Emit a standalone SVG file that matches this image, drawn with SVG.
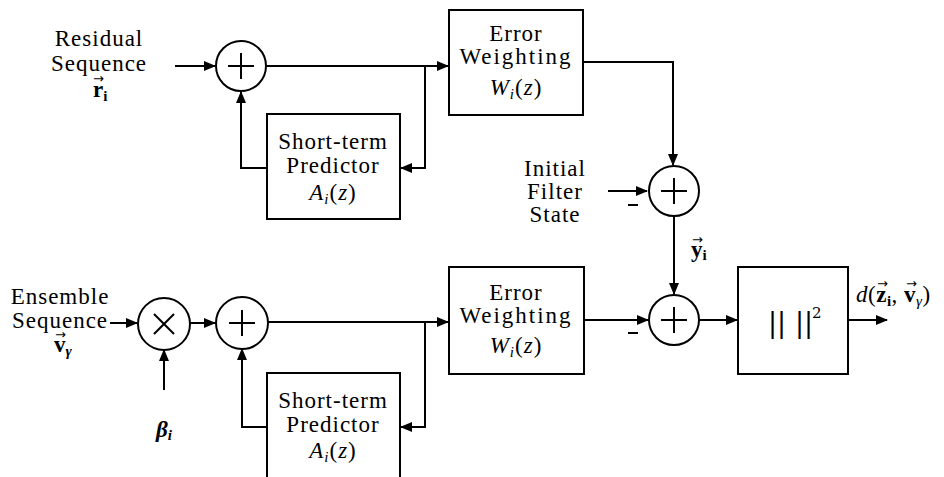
<svg xmlns="http://www.w3.org/2000/svg" width="944" height="477" viewBox="0 0 944 477">
<style>
text{font-family:"Liberation Serif","DejaVu Serif",serif;fill:#000}
.t{font-size:23px;text-anchor:middle;letter-spacing:1px}
.i{font-style:italic}
.b{font-weight:bold}
.s{font-size:15px}
.v{font-size:13px;font-weight:normal;font-style:normal;font-family:"DejaVu Sans",sans-serif}
.box{fill:#fff;stroke:#000;stroke-width:2}
.w{fill:none;stroke:#000;stroke-width:2}
</style>
<defs>
<marker id="ah" markerWidth="12" markerHeight="10" refX="11" refY="5" orient="auto" markerUnits="userSpaceOnUse">
<path d="M0,0 L12,5 L0,10 Z" fill="#000"/>
</marker>
</defs>
<g id="connectors" class="w">
<path d="M175,66 H215" marker-end="url(#ah)"/>
<path d="M267,66 H448" marker-end="url(#ah)"/>
<path d="M425,66 V168 H401" marker-end="url(#ah)"/>
<path d="M267,168 H241 V92" marker-end="url(#ah)"/>
<path d="M583,62 H673 V165" marker-end="url(#ah)"/>
<path d="M608,191 H647" marker-end="url(#ah)"/>
<path d="M628,205 H638"/>
<path d="M674,217 V294" marker-end="url(#ah)"/>
<path d="M110,323 H137" marker-end="url(#ah)"/>
<path d="M190,323 H215" marker-end="url(#ah)"/>
<path d="M164,390 V350" marker-end="url(#ah)"/>
<path d="M268,322 H448" marker-end="url(#ah)"/>
<path d="M425,322 V427 H401" marker-end="url(#ah)"/>
<path d="M267,427 H242 V349" marker-end="url(#ah)"/>
<path d="M584,320 H648" marker-end="url(#ah)"/>
<path d="M628,333 H638"/>
<path d="M700,320 H737" marker-end="url(#ah)"/>
<path d="M848,320 H887" marker-end="url(#ah)"/>
</g>
<g id="residual-label">
<text class="t" x="99" y="46">Residual</text>
<text class="t" x="99" y="71">Sequence</text>
<text class="b" x="93" y="97" style="font-size:23px">r<tspan class="s" dy="4">i</tspan><tspan class="v" x="93" y="83">→</tspan></text>
</g>
<g id="sum1">
<circle class="box" cx="241" cy="66" r="25"/>
<path class="w" d="M228,66 H254 M241,53 V79"/>
</g>
<g id="stp1">
<rect class="box" x="267" y="114" width="133" height="105"/>
<text class="t" x="333" y="149">Short-term</text>
<text class="t" x="333" y="173">Predictor</text>
<text class="t" x="333" y="200"><tspan class="i">A</tspan><tspan class="s i" dy="4">i</tspan><tspan dy="-4">(</tspan><tspan class="i">z</tspan>)</text>
</g>
<g id="ew1">
<rect class="box" x="449" y="10" width="134" height="105"/>
<text class="t" x="516" y="41">Error</text>
<text class="t" x="516" y="64" style="letter-spacing:2px">Weighting</text>
<text class="t" x="516" y="95"><tspan class="i">W</tspan><tspan class="s i" dy="4">i</tspan><tspan dy="-4">(</tspan><tspan class="i">z</tspan>)</text>
</g>
<g id="initial-label">
<text class="t" x="555" y="176">Initial</text>
<text class="t" x="555" y="199">Filter</text>
<text class="t" x="555" y="222">State</text>
</g>
<g id="sum2">
<circle class="box" cx="674" cy="191" r="25"/>
<path class="w" d="M661,191 H687 M674,178 V204"/>
</g>
<g id="y-label">
<text class="b" x="691" y="257" style="font-size:23px">y<tspan class="s" dy="3">i</tspan><tspan class="v" x="692" y="244">→</tspan></text>
</g>
<g id="ensemble-label">
<text class="t" x="60" y="304">Ensemble</text>
<text class="t" x="60" y="328">Sequence</text>
<text class="b" x="54" y="352" style="font-size:23px">v<tspan class="s i" dy="4">γ</tspan><tspan class="v" x="55" y="339">→</tspan></text>
</g>
<g id="mult">
<circle class="box" cx="164" cy="324" r="26"/>
<path class="w" d="M154,314 L174,334 M174,314 L154,334"/>
</g>
<g id="beta-label">
<text class="t i b" x="164" y="437" style="letter-spacing:0">β<tspan class="s" dy="3">i</tspan></text>
</g>
<g id="sum3">
<circle class="box" cx="242" cy="323" r="26"/>
<path class="w" d="M229,323 H255 M242,310 V336"/>
</g>
<g id="stp2">
<rect class="box" x="267" y="373" width="133" height="110"/>
<text class="t" x="333" y="408">Short-term</text>
<text class="t" x="333" y="432">Predictor</text>
<text class="t" x="333" y="458"><tspan class="i">A</tspan><tspan class="s i" dy="4">i</tspan><tspan dy="-4">(</tspan><tspan class="i">z</tspan>)</text>
</g>
<g id="ew2">
<rect class="box" x="449" y="267" width="135" height="107"/>
<text class="t" x="516" y="300">Error</text>
<text class="t" x="516" y="323" style="letter-spacing:2px">Weighting</text>
<text class="t" x="516" y="353"><tspan class="i">W</tspan><tspan class="s i" dy="4">i</tspan><tspan dy="-4">(</tspan><tspan class="i">z</tspan>)</text>
</g>
<g id="sum4">
<circle class="box" cx="674" cy="320" r="25"/>
<path class="w" d="M661,320 H687 M674,307 V333"/>
</g>
<g id="norm">
<rect class="box" x="738" y="267" width="110" height="107"/>
<text x="768" y="332" style="font-size:27px;font-family:'DejaVu Serif',serif">||<tspan x="795">||</tspan><tspan class="s" x="812" y="318">2</tspan></text>
</g>
<g id="d-label">
<text x="856" y="302" style="font-size:23px;letter-spacing:0.5px"><tspan class="i">d</tspan>(<tspan class="b">z</tspan><tspan class="s b" dy="4">i</tspan><tspan dy="-4">, </tspan><tspan class="b">v</tspan><tspan class="s i" dy="4">γ</tspan><tspan dy="-4">)</tspan><tspan class="v" x="877" y="288">→</tspan><tspan class="v" x="906" y="288">→</tspan></text>
</g>
</svg>
